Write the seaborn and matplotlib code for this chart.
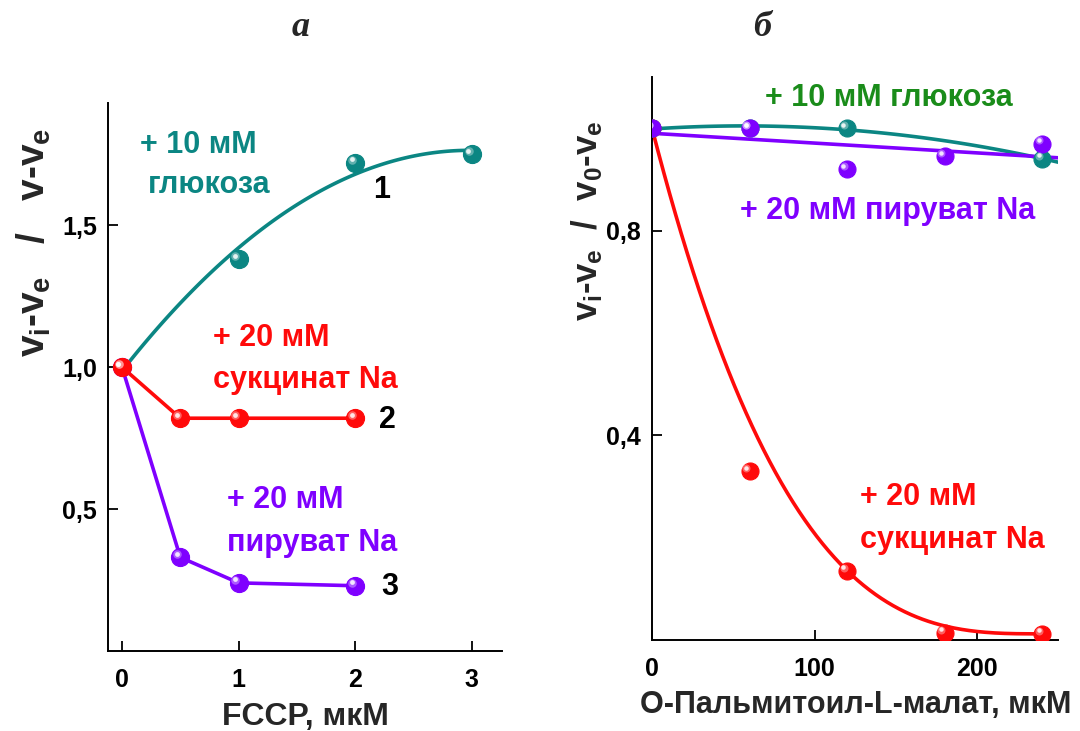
import numpy as np
import pandas as pd
import seaborn as sns
import matplotlib
matplotlib.use("Agg")
import matplotlib.pyplot as plt
from matplotlib.transforms import offset_copy
from matplotlib.ticker import FixedLocator, FuncFormatter

# ---- panel a: FCCP titration ----
fccp_glc = [0, 1, 2, 3]
ratio_glc = [1.0, 1.38, 1.72, 1.75]
fccp_succ = [0, 0.5, 1, 2]
ratio_succ = [1.0, 0.82, 0.82, 0.82]
fccp_pyr = [0, 0.5, 1, 2]
ratio_pyr = [1.0, 0.33, 0.24, 0.23]

# ---- panel b: O-palmitoyl-L-malate titration ----
pm_glc = [0, 60, 120, 240]
ratio_pm_glc = [1.0, 1.0, 1.0, 0.94]
pm_pyr = [0, 60, 120, 180, 240]
ratio_pm_pyr = [1.0, 1.0, 0.92, 0.945, 0.97]
pm_succ = [0, 60, 120, 180, 240]
ratio_pm_succ = [1.0, 0.33, 0.135, 0.014, 0.012]

TEAL = "#0b8683"
RED = "#ff0a0a"
PURPLE = "#7f00ff"
GREEN = "#1a8c1a"

sns.set_style("ticks")
plt.rcParams["font.family"] = ["Liberation Sans", "DejaVu Sans"]
plt.rcParams["font.weight"] = "bold"
plt.rcParams["mathtext.fontset"] = "custom"
plt.rcParams["mathtext.rm"] = "Liberation Sans:bold"
plt.rcParams["mathtext.it"] = "Liberation Sans:bold"
plt.rcParams["mathtext.bf"] = "Liberation Sans:bold"

FS = 22
LW = 2.6

fig = plt.figure(figsize=(10.8, 7.31), dpi=100)
ax1 = fig.add_axes([0.100, 0.1094, 0.365, 0.7496])
ax2 = fig.add_axes([0.6037, 0.1245, 0.3763, 0.7702])


def balls(ax, x, y, color, size=170):
    """Shaded spherical markers."""
    df = pd.DataFrame({"x": x, "y": y})
    sns.scatterplot(data=df, x="x", y="y", ax=ax, color=color, s=size,
                    edgecolor=color, linewidth=0.8, zorder=4, legend=False)
    hl = offset_copy(ax.transData, fig=fig, x=-2.4, y=2.2, units="points")
    ax.scatter(x, y, s=size * 0.22, color="white", alpha=0.35,
               linewidths=0, zorder=5, transform=hl)
    hl2 = offset_copy(ax.transData, fig=fig, x=-2.6, y=2.5, units="points")
    ax.scatter(x, y, s=size * 0.07, color="white", alpha=0.85,
               linewidths=0, zorder=6, transform=hl2)


def style_axis(ax):
    sns.despine(ax=ax)
    for s in ("left", "bottom"):
        ax.spines[s].set_linewidth(1.4)
        ax.spines[s].set_color("black")
    ax.tick_params(direction="in", length=7, width=1.3, labelsize=18,
                   colors="black")
    ax.tick_params(axis="x", pad=12)
    ax.tick_params(axis="y", pad=8)
    for lab in ax.get_xticklabels() + ax.get_yticklabels():
        lab.set_fontweight("bold")


comma = FuncFormatter(lambda v, p: f"{v:.1f}".replace(".", ","))

# ---------------- panel a ----------------
sns.regplot(x=np.array(fccp_glc), y=np.array(ratio_glc), ax=ax1, order=2,
            ci=None, scatter=False, truncate=True,
            line_kws=dict(color=TEAL, lw=LW, zorder=2))
sns.lineplot(x=fccp_pyr, y=ratio_pyr, ax=ax1, color=PURPLE, lw=LW,
             zorder=2, estimator=None, sort=False)
sns.lineplot(x=fccp_succ, y=ratio_succ, ax=ax1, color=RED, lw=LW,
             zorder=2, estimator=None, sort=False)
balls(ax1, fccp_glc[1:], ratio_glc[1:], TEAL)
balls(ax1, fccp_pyr, ratio_pyr, PURPLE)
balls(ax1, fccp_succ, ratio_succ, RED)

ax1.set_xlim(-0.12, 3.26)
ax1.set_ylim(0, 1.93)
ax1.xaxis.set_major_locator(FixedLocator([0, 1, 2, 3]))
ax1.yaxis.set_major_locator(FixedLocator([0.5, 1.0, 1.5]))
ax1.yaxis.set_major_formatter(comma)
ax1.xaxis.set_major_formatter(FuncFormatter(lambda v, p: f"{v:.0f}"))
style_axis(ax1)

tk = dict(fontsize=FS, fontweight="bold", va="center", ha="left")
ax1.text(0.154, 1.782, "+ 10 мМ", color=TEAL, **tk)
ax1.text(0.223, 1.641, "глюкоза", color=TEAL, **tk)
ax1.text(0.78, 1.102, "+ 20 мМ", color=RED, **tk)
ax1.text(0.78, 0.954, "сукцинат Na", color=RED, **tk)
ax1.text(0.90, 0.532, "+ 20 мМ", color=PURPLE, **tk)
ax1.text(0.90, 0.380, "пируват Na", color=PURPLE, **tk)
nk = dict(fontsize=FS, fontweight="bold", va="center", ha="center",
          color="black")
ax1.text(2.228, 1.623, "1", **nk)
ax1.text(2.28, 0.813, "2", **nk)
ax1.text(2.296, 0.225, "3", **nk)

ax1.set_xlabel("FCCP, мкМ", fontsize=23, fontweight="bold")
ax1.set_ylabel(r"$v_i$-$v_e$   /   $v$-$v_e$", fontsize=28,
               fontweight="bold")
ax1.xaxis.set_label_coords(0.5, -0.093)
ax1.yaxis.set_label_coords(-0.14, 0.745)

# ---------------- panel b ----------------
ax2.set_xlim(0, 250)
ax2.set_ylim(0, 1.1)

# succinate: cubic decay from the first to the last measured value,
# levelling off at the highest concentration
xs = np.array(pm_succ, dtype=float)
ys = np.array(ratio_pm_succ, dtype=float)
x_end = xs.max()
x_grid = np.linspace(0, x_end, 200)
y_curve = ys[-1] + (ys[0] - ys[-1]) * (1 - x_grid / x_end) ** 3
sns.lineplot(x=x_grid, y=y_curve, ax=ax2, color=RED, lw=LW, zorder=2,
             estimator=None)

sns.regplot(x=np.array(pm_glc), y=np.array(ratio_pm_glc), ax=ax2,
            order=2, ci=None, scatter=False, truncate=False,
            line_kws=dict(color=TEAL, lw=LW, zorder=2))
sns.regplot(x=np.array(pm_pyr), y=np.array(ratio_pm_pyr), ax=ax2,
            order=1, ci=None, scatter=False, truncate=False,
            line_kws=dict(color=PURPLE, lw=LW, zorder=2))
balls(ax2, pm_succ, ratio_pm_succ, RED, size=150)
balls(ax2, pm_glc, ratio_pm_glc, TEAL, size=150)
balls(ax2, pm_pyr, ratio_pm_pyr, PURPLE, size=150)

ax2.set_xlim(0, 250)
ax2.set_ylim(0, 1.1)
ax2.xaxis.set_major_locator(FixedLocator([0, 100, 200]))
ax2.yaxis.set_major_locator(FixedLocator([0.4, 0.8]))
ax2.yaxis.set_major_formatter(comma)
ax2.xaxis.set_major_formatter(FuncFormatter(lambda v, p: f"{v:.0f}"))
style_axis(ax2)

ax2.text(69.5, 1.059, "+ 10 мМ глюкоза", color=GREEN, **tk)
ax2.text(54, 0.839, "+ 20 мМ пируват Na", color=PURPLE, **tk)
ax2.text(128, 0.279, "+ 20 мМ", color=RED, **tk)
ax2.text(128, 0.195, "сукцинат Na", color=RED, **tk)

ax2.set_xlabel("O-Пальмитоил-L-малат, мкМ", fontsize=22, fontweight="bold")
ax2.set_ylabel(r"$v_i$-$v_e$  /  $v_0$-$v_e$", fontsize=25,
               fontweight="bold")
ax2.xaxis.set_label_coords(0.5, -0.089)
ax2.yaxis.set_label_coords(-0.115, 0.745)

# panel letters
fig.text(0.278, 0.962, "а", fontsize=26, fontstyle="italic",
         fontweight="bold", family="Liberation Serif", ha="center",
         va="center")
fig.text(0.706, 0.962, "б", fontsize=26, fontstyle="italic",
         fontweight="bold", family="Liberation Serif", ha="center",
         va="center")

fig.savefig("out.png", dpi=100, facecolor="white")
